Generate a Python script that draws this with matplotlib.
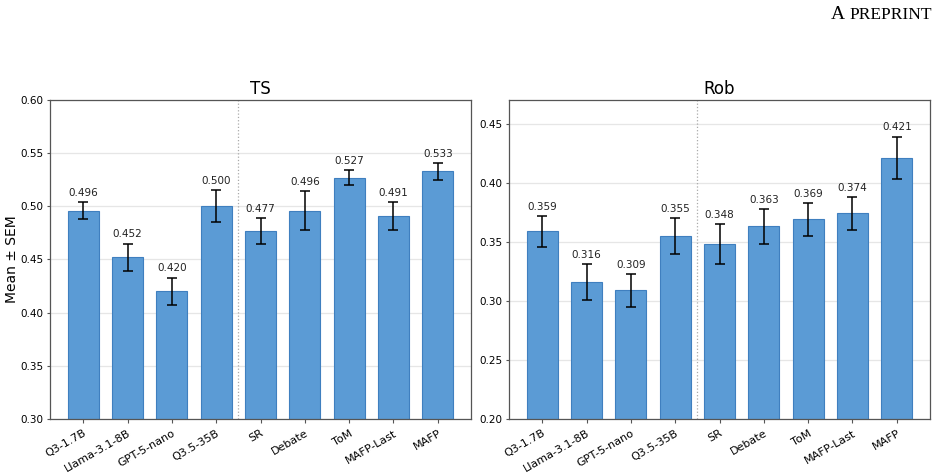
import matplotlib
matplotlib.use("Agg")
import matplotlib.pyplot as plt
import numpy as np

categories = ["Q3-1.7B", "Llama-3.1-8B", "GPT-5-nano", "Q3.5-35B", "SR", "Debate", "ToM", "MAFP-Last", "MAFP"]
ts_mean = [0.496, 0.452, 0.420, 0.500, 0.477, 0.496, 0.527, 0.491, 0.533]
ts_sem = [0.008, 0.013, 0.013, 0.015, 0.012, 0.018, 0.007, 0.013, 0.008]
rob_mean = [0.359, 0.316, 0.309, 0.355, 0.348, 0.363, 0.369, 0.374, 0.421]
rob_sem = [0.013, 0.015, 0.014, 0.015, 0.017, 0.015, 0.014, 0.014, 0.018]

fig = plt.figure(figsize=(9.42, 4.74), dpi=100)
ax1 = fig.add_axes([50/942, 1-419/474, 421/942, 319/474])
ax2 = fig.add_axes([509/942, 1-419/474, 421/942, 319/474])

face = "#5b9bd5"
edge = "#3f7fbf"

def draw(ax, means, sems, title, ylim, ticks):
    x = np.arange(len(categories))
    ax.bar(x, means, width=0.7, color=face, edgecolor=edge, linewidth=0.8, zorder=2)
    ax.errorbar(x, means, yerr=sems, fmt="none", ecolor="black", elinewidth=1.1,
                capsize=3.5, capthick=1.1, zorder=3)
    for xi, m, s in zip(x, means, sems):
        ax.annotate(f"{m:.3f}", (xi, m + s), xytext=(0, 3), textcoords="offset points",
                    ha="center", va="bottom", fontsize=7.5, color="#222222")
    ax.axvline(3.5, color="#aaaaaa", linestyle=":", linewidth=0.9, zorder=1)
    ax.set_ylim(*ylim)
    ax.set_yticks(ticks)
    ax.set_yticklabels([f"{t:.2f}" for t in ticks])
    ax.yaxis.grid(True, color="#e6e6e6", linewidth=0.9, zorder=0)
    ax.set_axisbelow(True)
    ax.set_xlim(-0.75, len(categories) - 0.25)
    ax.set_xticks(x)
    ax.set_xticklabels(categories, rotation=30, ha="right", rotation_mode="anchor", fontsize=8)
    ax.tick_params(axis="y", labelsize=7.5, length=2.5, pad=2, color="#555555")
    ax.tick_params(axis="x", length=3, color="#555555")
    for sp in ax.spines.values():
        sp.set_color("#555555")
        sp.set_linewidth(0.9)
    ax.set_title(title, fontsize=12, pad=4)

draw(ax1, ts_mean, ts_sem, "TS", (0.30, 0.60), [0.30, 0.35, 0.40, 0.45, 0.50, 0.55, 0.60])
draw(ax2, rob_mean, rob_sem, "Rob", (0.20, 0.47), [0.20, 0.25, 0.30, 0.35, 0.40, 0.45])
ax1.set_ylabel("Mean ± SEM", fontsize=10)
ax1.yaxis.set_label_coords(-0.074, 0.5)

fig.text(845/942, 1-19/474, "A", fontsize=14, family="Liberation Serif", ha="right", va="baseline")
fig.text(849/942, 1-19/474, "PREPRINT", fontsize=12.5, family="Liberation Serif", ha="left", va="baseline")

fig.savefig("out.png", dpi=100)
